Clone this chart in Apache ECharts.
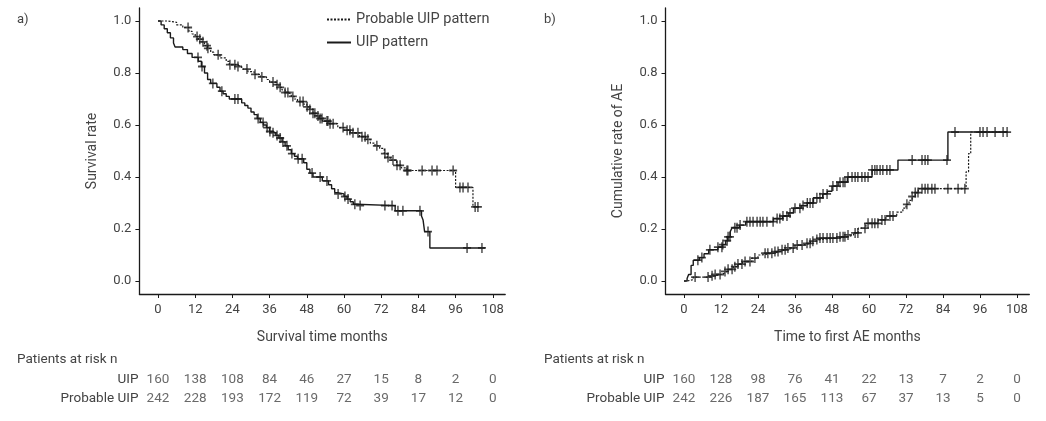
<!DOCTYPE html>
<html lang="en">
<head>
    <meta charset="UTF-8">
    <script type="text/javascript" src="https://cdn.jsdelivr.net/npm/echarts@6/dist/echarts.min.js"></script>
    <style>
        body { margin: 0; background: #fff; }
        #chart { width: 1046px; height: 421px; }
    </style>
</head>
<body>
    <div id="chart"></div>
</body>

<script>
    // x ticks (months)
    var monthTicks = [0, 12, 24, 36, 48, 60, 72, 84, 96, 108];
    var rateTicks = [0, 0.2, 0.4, 0.6, 0.8, 1.0];

    // a) survival, step points [month, rate]
    var survUIP = [[0,1],[1,0.985],[2,0.97],[3,0.955],[4,0.935],[5,0.915],[5.5,0.9],[8,0.89],[9.5,0.875],[11,0.86],
        [13,0.845],[14,0.825],[15,0.8],[16,0.775],[17,0.76],[19,0.745],[20,0.73],[21,0.72],[22,0.71],[23,0.7],
        [27,0.685],[28,0.675],[29,0.665],[30,0.65],[31,0.64],[32,0.625],[33,0.61],[34,0.6],[35,0.59],[36,0.575],
        [37,0.57],[38,0.56],[39,0.55],[40,0.535],[41,0.52],[42,0.505],[43,0.49],[44,0.48],[45,0.47],[47,0.455],
        [48,0.43],[49,0.415],[50,0.4],[53,0.385],[55,0.37],[56,0.355],[57,0.34],[58,0.335],[60,0.325],[61,0.315],
        [62,0.305],[63,0.295],[64,0.29],[76.5,0.27],[85,0.25],[85.5,0.235],[86,0.19],[87.7,0.127],[105.5,0.127]];
    var survProb = [[0,1],[3,0.995],[6,0.985],[8,0.975],[10,0.96],[11,0.95],[12,0.94],[13,0.93],[14,0.92],[15,0.905],
        [16,0.895],[17,0.88],[18,0.87],[20,0.858],[22,0.845],[23,0.832],[25,0.825],[27,0.815],[29,0.805],[31,0.795],
        [33,0.785],[35,0.775],[36,0.765],[38,0.755],[39,0.745],[40,0.735],[41,0.725],[42,0.718],[43,0.71],[44,0.7],
        [45,0.69],[47,0.68],[48,0.67],[49,0.66],[50,0.645],[51,0.635],[52,0.625],[53,0.615],[55,0.605],[58,0.59],
        [60,0.58],[62,0.57],[65,0.555],[67,0.545],[68.5,0.53],[70,0.52],[71.5,0.51],[73,0.49],[74,0.475],[75,0.465],
        [77,0.445],[78.5,0.435],[80.3,0.425],[96,0.36],[101.6,0.285],[104,0.285]];
    // censored times (months)
    var censUIP_a = [12.9,14.2,17.7,20.6,24.8,25.8,32.3,33.9,35.2,36.1,37.1,38.4,39.4,40.3,41.6,43.2,45.2,46.5,
        49.7,52.3,54.5,58.1,60.3,61.3,63.5,65.2,73.2,75.5,77.4,79,84.5,87.1,99.7,104.5];
    var censProb_a = [9.7,12.6,13.5,14.5,15.8,16.1,19.4,23.2,24.8,25.8,28.7,31.3,33.5,37.1,38.4,39.4,41,41.9,43.5,
        45.8,46.8,48.1,49,50,50.6,51.6,52.3,52.9,54.5,54.8,55.5,56.5,59.7,61,61.9,62.9,64.5,65.8,66.8,67.7,70.6,
        73.2,74.2,75.8,77.1,78.1,80.3,80.6,85.2,88.4,90,95.2,97.4,98.4,100,102.3,103.2];

    // b) cumulative AE, step points [month, rate]
    var aeUIP = [[0,0],[1,0.01],[1.5,0.025],[2.3,0.06],[3,0.08],[5,0.09],[6.5,0.105],[8,0.12],[11,0.13],[12.5,0.14],
        [13.5,0.155],[14.2,0.17],[15,0.19],[15.6,0.205],[18,0.215],[20,0.228],[29,0.24],[32,0.25],[34,0.262],[35.5,0.28],
        [38,0.29],[40,0.3],[42,0.32],[45,0.335],[46.5,0.345],[48,0.365],[50,0.38],[53,0.4],[61,0.427],[69.4,0.465],
        [85.6,0.573],[105,0.573]];
    var aeProb = [[0,0],[1,0.005],[3,0.015],[8,0.02],[10,0.025],[12,0.03],[13,0.037],[14,0.045],[16,0.055],[17.5,0.065],
        [19,0.075],[22,0.088],[24,0.1],[25,0.107],[29,0.113],[31,0.12],[33,0.127],[36,0.138],[38.5,0.145],[41,0.153],
        [43,0.16],[44,0.165],[50,0.17],[53,0.177],[55,0.185],[56.5,0.203],[59,0.222],[63,0.235],[65.5,0.25],[69,0.265],
        [71,0.28],[72,0.295],[73,0.31],[74,0.325],[75,0.34],[76,0.355],[91.5,0.42],[92.3,0.49],[93,0.573],[105,0.573]];
    var censUIP_b = [4.5,5.8,8.4,11,12.3,12.6,14,14.3,14.9,16.5,17.2,18.2,20.4,21.4,22.4,23.7,24.7,25.6,26.9,28.9,
        30.2,31.1,32.1,33.4,34.4,36,37.6,38.6,40,40.9,41.8,43.1,44.1,45.1,46.4,48.3,49.6,50.6,51.6,52.2,53.2,54.5,
        55.5,56.4,57.7,58.7,59.7,61,61.9,62.6,63.6,64.5,65.8,66.8,74,77.2,78.2,79.1,85.3,87.9,96,97,98.3,100.9,103.5,104.8];
    var censProb_b = [3.6,7.8,9.1,10.1,11.7,13.3,14.3,15.6,16.5,17.5,18.8,19.8,21.4,23,26.3,27.2,28.5,29.5,30.5,31.8,
        32.8,33.7,35.4,36.7,38.3,39.9,40.9,41.8,43.1,44.1,45.1,46.4,47.4,48.3,49.6,50.6,51.6,52.2,53.2,55.5,56.4,
        58.7,59.7,61,61.9,62.9,64.2,65.2,66.8,67.8,72.3,74,75,75.9,77.2,78.2,79.1,80.4,81.4,85.6,88.9,91.1];

    // patients at risk at each tick
    var riskGroups = ['Probable UIP', 'UIP'];
    var riskUIP_a = [160, 138, 108, 84, 46, 27, 15, 8, 2, 0];
    var riskProb_a = [242, 228, 193, 172, 119, 72, 39, 17, 12, 0];
    var riskUIP_b = [160, 128, 98, 76, 41, 22, 13, 7, 2, 0];
    var riskProb_b = [242, 226, 187, 165, 113, 67, 37, 13, 5, 0];

    var FONT = 'Roboto';
    var TXT = '#444';
    var INK = '#1a1a1a';
    var PLUS = 'path://M0,5L10,5M5,0L5,10';

    //value of a step curve at time t
    function FStepAt(steps, t) {
        var v = steps[0][1];
        for (var i = 0; i < steps.length; i++) {
            if (steps[i][0] <= t) v = steps[i][1];
        }
        return v;
    }

    function FPlotX(gridIndex, name) {
        return {
            type: 'value', gridIndex: gridIndex, min: -6, max: 112,
            name: name, nameLocation: 'middle', nameGap: 36,
            nameTextStyle: {color: TXT, fontSize: 14, fontFamily: FONT},
            axisLine: {onZero: false, lineStyle: {color: INK, width: 1.3}},
            axisTick: {length: 4, lineStyle: {color: INK}, customValues: monthTicks},
            axisLabel: {margin: 9, color: TXT, fontSize: 13, fontFamily: FONT, customValues: monthTicks},
            splitLine: {show: false}
        };
    }
    function FPlotY(gridIndex, name) {
        return {
            type: 'value', gridIndex: gridIndex, min: -0.05, max: 1.05,
            name: name, nameLocation: 'middle', nameGap: 40,
            nameTextStyle: {color: TXT, fontSize: 14, fontFamily: FONT},
            axisLine: {show: true, onZero: false, lineStyle: {color: INK, width: 1.3}},
            axisTick: {show: true, length: 4, lineStyle: {color: INK}, customValues: rateTicks},
            axisLabel: {margin: 8, color: TXT, fontSize: 13, fontFamily: FONT, customValues: rateTicks,
                formatter: function (v) { return v.toFixed(1); }},
            splitLine: {show: false}
        };
    }
    function FRiskX(gridIndex) {
        return {type: 'value', gridIndex: gridIndex, min: -6, max: 112, show: false};
    }
    function FRiskY(gridIndex) {
        return {
            type: 'category', gridIndex: gridIndex, data: riskGroups,
            axisLine: {show: false}, axisTick: {show: false},
            axisLabel: {interval: 0, margin: 1, color: TXT, fontSize: 13.5, fontFamily: FONT}
        };
    }
    function FStepSeries(name, idx, steps, dotted) {
        return {
            name: name, type: 'line', step: 'end', xAxisIndex: idx, yAxisIndex: idx,
            data: steps, symbol: 'none', animation: false,
            itemStyle: {color: INK},
            lineStyle: {color: INK, width: dotted ? 1.2 : 1.4, type: dotted ? [2, 1.5] : 'solid'}
        };
    }
    function FCensorSeries(idx, steps, times) {
        return {
            name: 'censor' + idx, type: 'scatter', xAxisIndex: idx, yAxisIndex: idx,
            data: times.map(function (t) { return [t, FStepAt(steps, t)]; }),
            symbol: PLUS, symbolSize: [8, 10], animation: false,
            itemStyle: {color: 'rgba(0,0,0,0)', borderColor: INK, borderWidth: 1.6}
        };
    }
    function FRiskSeries(idx, group, counts) {
        return {
            name: 'risk' + idx + group, type: 'scatter', xAxisIndex: idx, yAxisIndex: idx,
            data: monthTicks.map(function (t, i) { return [t, group, counts[i]]; }),
            symbolSize: 0, animation: false, silent: true,
            label: {show: true, position: 'inside', color: TXT, fontSize: 13.5, fontFamily: FONT,
                formatter: function (p) { return p.value[2]; }}
        };
    }

    var chart = echarts.init(document.getElementById('chart'));
    chart.setOption({
        backgroundColor: '#fff',
        animation: false,
        title: [
            {text: 'a)', left: 12, top: 8, textStyle: {color: TXT, fontSize: 13, fontWeight: 'normal', fontFamily: FONT}},
            {text: 'b)', left: 539, top: 8, textStyle: {color: TXT, fontSize: 13, fontWeight: 'normal', fontFamily: FONT}},
            {text: 'Patients at risk n', left: 12, top: 348, textStyle: {color: TXT, fontSize: 13.5, fontWeight: 'normal', fontFamily: FONT}},
            {text: 'Patients at risk n', left: 539, top: 348, textStyle: {color: TXT, fontSize: 13.5, fontWeight: 'normal', fontFamily: FONT}}
        ],
        legend: {
            data: ['Probable UIP pattern', 'UIP pattern'],
            orient: 'vertical', left: 321, top: 7, itemGap: 8,
            itemWidth: 24, itemHeight: 10,
            itemStyle: {color: 'rgba(0,0,0,0)', borderWidth: 0},
            textStyle: {color: TXT, fontSize: 14.5, fontFamily: FONT}
        },
        grid: [
            {left: 139.4, top: 8, width: 365.8, height: 286},
            {left: 139.4, top: 370, width: 365.8, height: 38},
            {left: 665.5, top: 8, width: 363.8, height: 286},
            {left: 665.5, top: 370, width: 363.8, height: 38}
        ],
        xAxis: [FPlotX(0, 'Survival time months'), FRiskX(1), FPlotX(2, 'Time to first AE months'), FRiskX(3)],
        yAxis: [FPlotY(0, 'Survival rate'), FRiskY(1), FPlotY(2, 'Cumulative rate of AE'), FRiskY(3)],
        series: [
            FStepSeries('Probable UIP pattern', 0, survProb, true),
            FStepSeries('UIP pattern', 0, survUIP, false),
            FCensorSeries(0, survProb, censProb_a),
            FCensorSeries(0, survUIP, censUIP_a),
            FRiskSeries(1, 'UIP', riskUIP_a),
            FRiskSeries(1, 'Probable UIP', riskProb_a),
            FStepSeries('Probable UIP pattern', 2, aeProb, true),
            FStepSeries('UIP pattern', 2, aeUIP, false),
            FCensorSeries(2, aeProb, censProb_b),
            FCensorSeries(2, aeUIP, censUIP_b),
            FRiskSeries(3, 'UIP', riskUIP_b),
            FRiskSeries(3, 'Probable UIP', riskProb_b)
        ]
    });
</script>
</html>
